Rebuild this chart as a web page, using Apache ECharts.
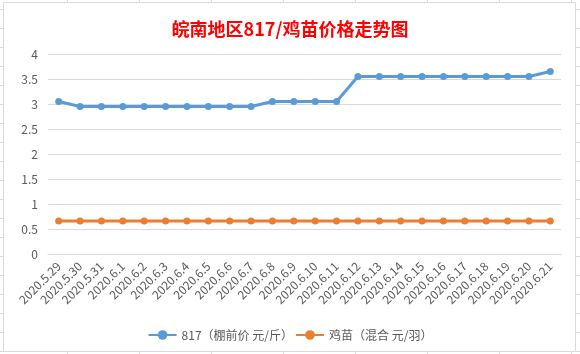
<!DOCTYPE html>
<html>
<head>
<meta charset="utf-8">
<script src="https://cdn.jsdelivr.net/npm/echarts@6/dist/echarts.min.js"></script>
<style>
html,body{margin:0;padding:0;background:#fff;}
#c{width:580px;height:354px;}
</style>
</head>
<body>
<div id="c"></div>
<script>
var categories = ['2020.5.29','2020.5.30','2020.5.31','2020.6.1','2020.6.2','2020.6.3','2020.6.4','2020.6.5','2020.6.6','2020.6.7','2020.6.8','2020.6.9','2020.6.10','2020.6.11','2020.6.12','2020.6.13','2020.6.14','2020.6.15','2020.6.16','2020.6.17','2020.6.18','2020.6.19','2020.6.20','2020.6.21'];
var price817 = [3.05,2.95,2.95,2.95,2.95,2.95,2.95,2.95,2.95,2.95,3.05,3.05,3.05,3.05,3.55,3.55,3.55,3.55,3.55,3.55,3.55,3.55,3.55,3.65];
var chickPrice = [0.66,0.66,0.66,0.66,0.66,0.66,0.66,0.66,0.66,0.66,0.66,0.66,0.66,0.66,0.66,0.66,0.66,0.66,0.66,0.66,0.66,0.66,0.66,0.66];
var seriesNames = ['817（棚前价 元/斤）','鸡苗（混合 元/羽）'];
var titleText = '皖南地区817/鸡苗价格走势图';

var font = '"Noto Sans CJK SC", "Noto Sans", sans-serif';
var gridColor = '#D9D9D9';
var textColor = '#595959';

// spreadsheet-like decoration around the chart
var deco = [];
var rows = [];
for (var y = 9; y < 354; y += 19) rows.push(y);
var cols = [67,139,211,283,355,427,499,571];
rows.forEach(function(y){
  deco.push({type:'line', shape:{x1:0,y1:y+0.5,x2:3,y2:y+0.5}, style:{stroke:gridColor,lineWidth:1}, silent:true});
  deco.push({type:'line', shape:{x1:576,y1:y+0.5,x2:580,y2:y+0.5}, style:{stroke:gridColor,lineWidth:1}, silent:true});
});
cols.forEach(function(x){
  deco.push({type:'line', shape:{x1:x+0.5,y1:0,x2:x+0.5,y2:2}, style:{stroke:gridColor,lineWidth:1}, silent:true});
  deco.push({type:'line', shape:{x1:x+0.5,y1:352,x2:x+0.5,y2:354}, style:{stroke:gridColor,lineWidth:1}, silent:true});
});
deco.push({type:'rect', shape:{x:3.5,y:2.5,width:572,height:349}, style:{fill:null,stroke:gridColor,lineWidth:1}, silent:true, z:-1});

var chart = echarts.init(document.getElementById('c'), null, {renderer:'canvas'});
chart.setOption({
  animation:false,
  backgroundColor:'#fff',
  textStyle:{fontFamily:font},
  title:{
    text:titleText,
    left:'center',
    top:15,
    textStyle:{color:'#FF0000',fontSize:18,fontWeight:'bold',fontFamily:font}
  },
  graphic: deco,
  legend:{
    top:324,
    left:'center',
    itemWidth:28,
    itemHeight:12,
    itemGap:2,
    textStyle:{color:textColor,fontSize:12,fontFamily:font},
    data:seriesNames
  },
  grid:{left:48,right:19,top:54,bottom:100},
  xAxis:{
    type:'category',
    data:categories,
    boundaryGap:true,
    axisLine:{show:true,lineStyle:{color:gridColor}},
    axisTick:{show:false},
    axisLabel:{rotate:45,color:textColor,fontSize:12,margin:10,interval:0,fontFamily:font}
  },
  yAxis:{
    type:'value',
    min:0,max:4,interval:0.5,
    axisLine:{show:false},
    axisTick:{show:false},
    axisLabel:{color:textColor,fontSize:12,margin:10,fontFamily:font},
    splitLine:{lineStyle:{color:gridColor,width:1}}
  },
  series:[
    {
      name:seriesNames[0], type:'line', data:price817,
      symbol:'circle', symbolSize:7,
      itemStyle:{color:'#5B9BD5'},
      lineStyle:{color:'#5B9BD5',width:3}
    },
    {
      name:seriesNames[1], type:'line', data:chickPrice,
      symbol:'circle', symbolSize:7,
      itemStyle:{color:'#ED7D31'},
      lineStyle:{color:'#ED7D31',width:3}
    }
  ]
});
</script>
</body>
</html>
